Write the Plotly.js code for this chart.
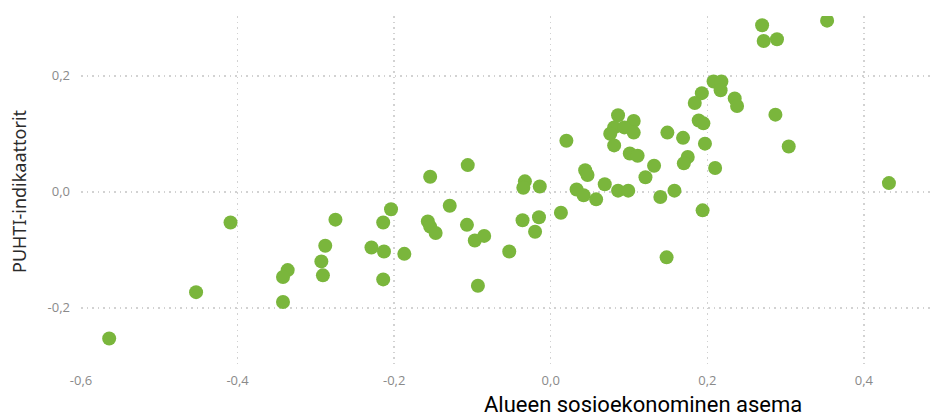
<!DOCTYPE html>
<html>
<head>
<meta charset="utf-8">
<script src="https://cdn.plot.ly/plotly-3.0.1.min.js"></script>
<style>html,body{margin:0;padding:0;background:#fff;}#chart{width:932px;height:417px;}</style>
</head>
<body>
<div id="chart"></div>
<script>
// Alueen sosioekonominen asema (x) vs PUHTI-indikaattorit (y)
var socioEconomic = [
  -0.564, -0.453, -0.409, -0.275, -0.288, -0.293, -0.291, -0.336, -0.342, -0.342,
  -0.229, -0.213, -0.214, -0.214, -0.204, -0.187, -0.157, -0.154, -0.147, -0.129,
  -0.154, -0.106, -0.107, -0.097, -0.085, -0.093, -0.053, -0.036, -0.015, -0.020,
   0.013, -0.033, -0.035, -0.014,  0.020,  0.044,  0.047,  0.069,  0.033,  0.042,
   0.058,  0.086,  0.099,  0.140,  0.158,  0.086,  0.106,  0.081,  0.094,  0.106,
   0.076,  0.081,  0.101,  0.111,  0.132,  0.121,  0.149,  0.169,  0.175,  0.170,
   0.148,  0.194,  0.208,  0.218,  0.217,  0.193,  0.184,  0.235,  0.238,  0.189,
   0.195,  0.197,  0.210,  0.270,  0.272,  0.289,  0.353,  0.287,  0.304,  0.432
];
var puhtiIndicator = [
  -0.253, -0.173, -0.053, -0.048, -0.093, -0.120, -0.144, -0.135, -0.147, -0.190,
  -0.096, -0.103, -0.151, -0.053, -0.030, -0.107, -0.051, -0.060, -0.071, -0.024,
   0.026,  0.046, -0.057, -0.084, -0.076, -0.162, -0.103, -0.049, -0.044, -0.069,
  -0.036,  0.018,  0.007,  0.009,  0.088,  0.037,  0.029,  0.013,  0.004, -0.006,
  -0.013,  0.002,  0.002, -0.009,  0.002,  0.132,  0.122,  0.111,  0.111,  0.102,
   0.100,  0.080,  0.066,  0.062,  0.045,  0.025,  0.102,  0.093,  0.060,  0.049,
  -0.113, -0.032,  0.190,  0.190,  0.175,  0.170,  0.153,  0.161,  0.148,  0.123,
   0.118,  0.083,  0.041,  0.287,  0.260,  0.263,  0.295,  0.133,  0.078,  0.015
];
var xTickVals = [-0.6, -0.4, -0.2, 0.0, 0.2, 0.4];
var xTickText = ['-0,6', '-0,4', '-0,2', '0,0', '0,2', '0,4'];
var yTickVals = [-0.2, 0.0, 0.2];
var yTickText = ['-0,2', '0,0', '0,2'];

var trace = {
  x: socioEconomic,
  y: puhtiIndicator,
  type: 'scatter',
  mode: 'markers',
  marker: {color: '#7ab63c', size: 14, line: {width: 0}},
  hoverinfo: 'x+y'
};

var tickFont = {family: '"Open Sans", "DejaVu Sans", sans-serif', size: 13, color: '#8a8a8a'};

var layout = {
  width: 932,
  height: 417,
  margin: {l: 81, r: 0, t: 16, b: 50, pad: 0},
  paper_bgcolor: '#ffffff',
  plot_bgcolor: '#ffffff',
  showlegend: false,
  xaxis: {
    range: [-0.6, 0.487],
    tickvals: xTickVals,
    ticktext: xTickText,
    showgrid: true,
    gridcolor: '#d2d2d2',
    griddash: '1.5px,4px',
    gridwidth: 1.5,
    zeroline: false,
    showline: false,
    ticks: '',
    ticklabelstandoff: 4,
    tickfont: tickFont
  },
  yaxis: {
    range: [-0.302, 0.303],
    tickvals: yTickVals,
    ticktext: yTickText,
    showgrid: true,
    gridcolor: '#d2d2d2',
    griddash: '1.5px,4px',
    gridwidth: 1.5,
    zeroline: false,
    showline: false,
    ticks: '',
    ticklabelstandoff: 10,
    tickfont: tickFont,
    title: {
      text: 'PUHTI-indikaattorit',
      font: {family: '"Noto Sans", "Open Sans", sans-serif', size: 18, color: '#2b2b2b'},
      standoff: 16
    }
  },
  annotations: [{
    text: 'Alueen sosioekonominen asema',
    xref: 'paper', yref: 'paper',
    x: (643 - 81) / 851, y: 0,
    yshift: -37,
    xanchor: 'center', yanchor: 'middle',
    showarrow: false,
    font: {family: 'Roboto, "Noto Sans", sans-serif', size: 22, color: '#000000'}
  }]
};

Plotly.newPlot('chart', [trace], layout, {displayModeBar: false, staticPlot: true});
</script>
</body>
</html>
